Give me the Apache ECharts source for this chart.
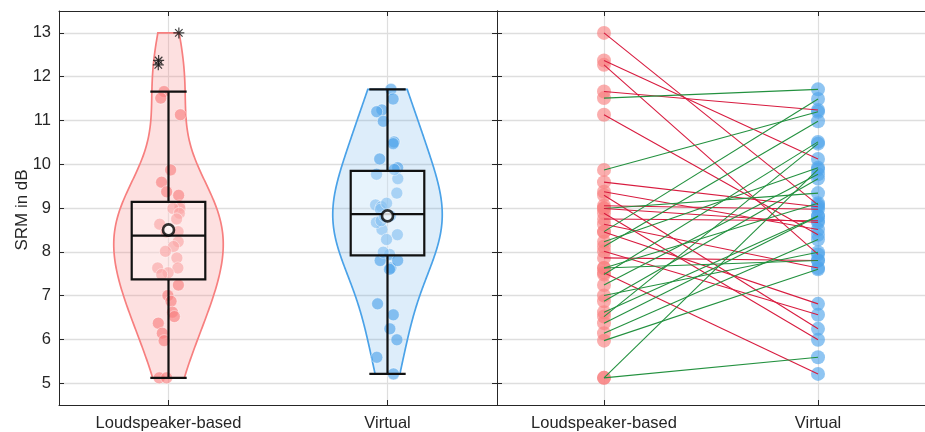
<!DOCTYPE html>
<html><head><meta charset="utf-8">
<script src="https://cdn.jsdelivr.net/npm/echarts@6/dist/echarts.min.js"></script>
<style>html,body{margin:0;padding:0;background:#fff}#c{width:925px;height:432px}</style>
</head><body><div id="c"></div>
<script>
// ---- data ----
const categories = ['Loudspeaker-based', 'Virtual'];
const yTicks = [5, 6, 7, 8, 9, 10, 11, 12, 13];
// paired values: loudspeaker[i] <-> virtualVals[i] (same listener)
const loudspeaker = [13.0, 12.37, 12.27, 11.66, 11.51, 11.13, 9.87, 9.59, 9.37, 9.29, 9.05, 8.99, 8.99, 8.88, 8.75, 8.63, 8.46, 8.45, 8.23, 8.12, 8.01, 7.86, 7.63, 7.63, 7.52, 7.48, 7.24, 7.00, 6.87, 6.62, 6.52, 6.37, 6.14, 5.97, 5.12, 5.12];
const virtualVals = [9.07, 10.12, 7.94, 11.24, 11.71, 8.39, 11.20, 9.03, 8.51, 6.24, 8.97, 9.34, 8.67, 5.99, 8.71, 7.63, 11.49, 6.81, 9.92, 10.98, 6.56, 7.80, 7.80, 9.11, 5.21, 10.51, 9.77, 7.99, 9.67, 8.82, 10.47, 8.81, 8.28, 7.60, 5.59, 9.88];
// box statistics
const q1 = [7.37, 7.92];
const medians = [8.37, 8.86];
const q3 = [9.14, 9.85];
const means = [8.50, 8.82];

// ---- styling ----
const FONT = '"Liberation Sans", Arial, Helvetica, sans-serif';
const AX = '#262626';
const GRIDC = '#dedede';
const violinFill = ['rgba(248,130,130,0.25)', 'rgba(85,165,232,0.2)'];
const violinEdge = ['#f77f7f', '#4aa2e8'];
const dotColor = ['rgba(248,128,128,0.8)', 'rgba(80,165,235,0.8)'];
const RED = '#d81b3f', GREEN = '#23913f';
const bwScale = [1.22, 1.32];

const groups = [loudspeaker, virtualVals];

function median(a){const s=[...a].sort((x,y)=>x-y);const n=s.length;return n%2?s[(n-1)/2]:(s[n/2-1]+s[n/2])/2;}
function kde(data,g){
  const n=data.length, med=median(data);
  const sig=median(data.map(v=>Math.abs(v-med)))/0.6745;
  const h=sig*Math.pow(4/(3*n),0.2)*bwScale[g];
  const lo=Math.min(...data), hi=Math.max(...data);
  const out=[]; const N=200;
  for(let i=0;i<=N;i++){
    const y=lo+(hi-lo)*i/N; let d=0;
    data.forEach(x=>{const u=(y-x)/h; d+=Math.exp(-0.5*u*u);});
    out.push([y,d]);
  }
  const mx=Math.max(...out.map(p=>p[1]));
  return out.map(p=>[p[0],p[1]/mx*0.25]);
}
const kdes = groups.map(kde);

// whiskers / outliers from data with 1.5 IQR fences
const whisk = groups.map((d,g)=>{
  const iqr=q3[g]-q1[g], hiF=q3[g]+1.5*iqr, loF=q1[g]-1.5*iqr;
  const inside=d.filter(v=>v>=loF&&v<=hiF);
  return [Math.min(...inside), Math.max(...inside), hiF, loF];
});

// deterministic jitter (seeded); pick a seed whose spread resembles the reference
function mulberry32(a){return function(){a|=0;a=a+0x6D2B79F5|0;let t=Math.imul(a^a>>>15,1|a);t=t+Math.imul(t^t>>>7,61|t)^t;return((t^t>>>14)>>>0)/4294967296;}}
function makeJitter(seed){const r=mulberry32(seed);return groups.map(d=>d.map(()=>(r()*2-1)*0.055));}
let jit=null;
for(let s=1;s<200000;s++){
  const j=makeJitter(s)[0];
  if(j[0]>0.04&&j[1]<-0.035&&j[2]<-0.025&&j[3]<-0.02&&j[4]<-0.02&&j[5]>0.035&&j[34]<-0.03&&j[35]<0.01&&j[35]>-0.03){jit=makeJitter(s);break;}
}
if(!jit) jit=makeJitter(7);
const jitterPts = groups.map((d,g)=>d.map((v,i)=>[g+1+jit[g][i], v]));
const inliers = jitterPts.map((pts,g)=>pts.filter(p=>p[1]<=whisk[g][2]&&p[1]>=whisk[g][3]));
const outl = jitterPts.map((pts,g)=>pts.filter(p=>p[1]>whisk[g][2]||p[1]<whisk[g][3]));

function xAx(grid,pos,labels,split){
  return {type:'value',gridIndex:grid,position:pos,min:0.5,max:2.5,
    axisLine:{show:true,onZero:false,lineStyle:{color:AX,width:1}},
    axisTick:{show:true,inside:true,length:5,customValues:[1,2],lineStyle:{color:AX,width:1}},
    axisLabel:{show:labels,customValues:[1,2],formatter:v=>categories[Math.round(v)-1]||'',color:AX,fontSize:16.5,fontFamily:FONT,margin:10},
    splitLine:{show:split,lineStyle:{color:GRIDC,width:1.2}}};
}
function yAx(grid,pos,labels,split){
  return {type:'value',gridIndex:grid,position:pos,min:4.5,max:13.5,
    axisLine:{show:true,onZero:false,lineStyle:{color:AX,width:1}},
    axisTick:{show:true,inside:true,length:5,customValues:yTicks,lineStyle:{color:AX,width:1}},
    axisLabel:{show:labels,customValues:yTicks,color:AX,fontSize:16.5,fontFamily:FONT,margin:8},
    splitLine:{show:split,lineStyle:{color:GRIDC,width:1.4}}};
}

const asterisk='path://M5,0L5,10M0,5L10,5M1.6,1.6L8.4,8.4M1.6,8.4L8.4,1.6';

const option={
  animation:false,
  grid:[{left:59,top:11,width:438,height:396},{left:497,top:11,width:440,height:396}],
  xAxis:[xAx(0,'bottom',true,true),xAx(0,'top',false,false),xAx(1,'bottom',true,true),xAx(1,'top',false,false)],
  yAxis:[yAx(0,'left',true,true),yAx(0,'right',false,false),yAx(1,'left',false,true)],
  graphic:[{type:'text',x:22,y:210,rotation:Math.PI/2,style:{text:'SRM in dB',fill:AX,fontSize:17,fontFamily:FONT,align:'center',verticalAlign:'middle'}}],
  series:[
    {type:'custom',xAxisIndex:0,yAxisIndex:0,z:1,data:[[1,means[0]],[2,means[1]]],
      renderItem:(params,api)=>{
        const g=params.dataIndex,k=kdes[g],pts=[];
        k.forEach(p=>pts.push(api.coord([g+1-p[1],p[0]])));
        for(let i=k.length-1;i>=0;i--)pts.push(api.coord([g+1+k[i][1],k[i][0]]));
        return {type:'polygon',shape:{points:pts},style:{fill:violinFill[g],stroke:violinEdge[g],lineWidth:1.7}};
      }},
    ...inliers.map((pts,g)=>({type:'scatter',xAxisIndex:0,yAxisIndex:0,z:2,data:pts,symbolSize:12,
      itemStyle:{color:dotColor[g],borderColor:'rgba(255,255,255,0.7)',borderWidth:0.8}})),
    {type:'custom',xAxisIndex:0,yAxisIndex:0,z:3,data:[[1,medians[0]],[2,medians[1]]],
      renderItem:(params,api)=>{
        const g=params.dataIndex,c=g+1,bw=0.168,cw=0.083;
        const st={stroke:'#111',lineWidth:2.2,fill:null};
        const L=(x1,y1,x2,y2)=>{const a=api.coord([x1,y1]),b=api.coord([x2,y2]);return {type:'line',shape:{x1:a[0],y1:a[1],x2:b[0],y2:b[1]},style:st};};
        const tl=api.coord([c-bw,q3[g]]),br=api.coord([c+bw,q1[g]]);
        return {type:'group',children:[
          L(c,q3[g],c,whisk[g][1]),L(c,q1[g],c,whisk[g][0]),
          L(c-cw,whisk[g][1],c+cw,whisk[g][1]),L(c-cw,whisk[g][0],c+cw,whisk[g][0]),
          {type:'rect',shape:{x:tl[0],y:tl[1],width:br[0]-tl[0],height:br[1]-tl[1]},style:{fill:'rgba(255,255,255,0.3)',stroke:'#111',lineWidth:2.2}},
          L(c-bw,medians[g],c+bw,medians[g])
        ]};
      }},
    ...outl.map(pts=>({type:'scatter',xAxisIndex:0,yAxisIndex:0,z:4,data:pts,symbol:asterisk,symbolSize:11,
      itemStyle:{color:'transparent',borderColor:'#111',borderWidth:1.2}})),
    {type:'scatter',xAxisIndex:0,yAxisIndex:0,z:5,data:[[1,means[0]],[2,means[1]]],symbolSize:11,
      itemStyle:{color:'#fff',borderColor:'#000',borderWidth:2.6}},
    // right panel
    {type:'scatter',xAxisIndex:2,yAxisIndex:2,z:2,data:loudspeaker.map(v=>[1,v]),symbolSize:14,itemStyle:{color:dotColor[0]}},
    {type:'scatter',xAxisIndex:2,yAxisIndex:2,z:2,data:virtualVals.map(v=>[2,v]),symbolSize:14,itemStyle:{color:dotColor[1]}},
    {type:'custom',xAxisIndex:2,yAxisIndex:2,z:3,data:loudspeaker.map((v,i)=>[v,virtualVals[i]]),
      renderItem:(params,api)=>{
        const l=api.value(0),v=api.value(1);
        const a=api.coord([1,l]),b=api.coord([2,v]);
        return {type:'line',shape:{x1:a[0],y1:a[1],x2:b[0],y2:b[1]},style:{stroke:v<l?RED:GREEN,lineWidth:1.1}};
      }}
  ]
};
const chart=echarts.init(document.getElementById('c'));
chart.setOption(option);
</script></body></html>
